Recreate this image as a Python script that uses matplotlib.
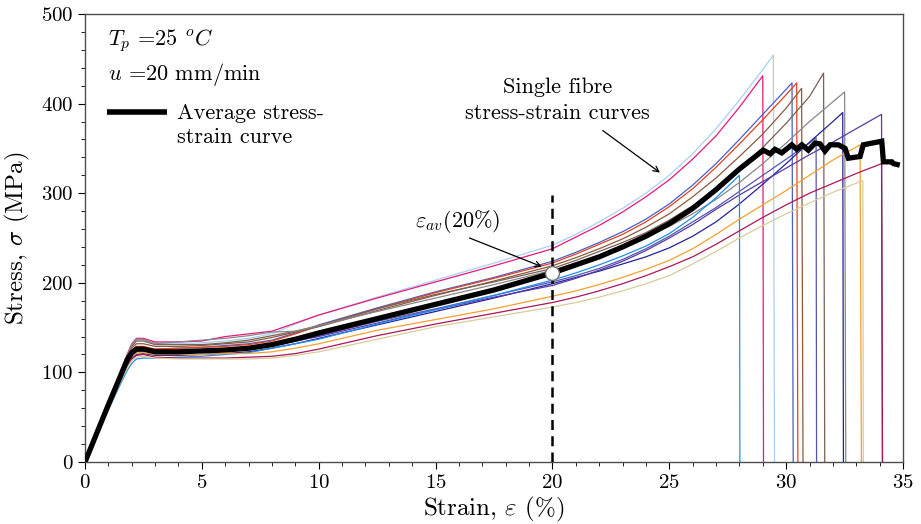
import matplotlib
matplotlib.use('Agg')
import matplotlib.pyplot as plt
from matplotlib.ticker import MultipleLocator

plt.rcParams['font.family'] = 'serif'
plt.rcParams['font.serif'] = ['cmr10']
plt.rcParams['mathtext.fontset'] = 'cm'
plt.rcParams['axes.unicode_minus'] = False
plt.rcParams['axes.formatter.use_mathtext'] = True

# common strain points (%) shared by all curves up to 27 %
strain_grid = [0, 0.5, 1, 1.5, 1.8, 2, 2.2, 2.5, 3, 4, 5, 6, 7, 8, 9, 10,
               12.5, 15, 17.5, 20, 21, 22, 23, 24, 25, 26, 27]

# single fibre curves: stress (MPa) on the grid, then tail strain / stress up to failure
lightblue_stress = [0, 32, 64, 96, 118, 130, 136, 136, 133, 132, 133, 135, 138, 143, 154, 164,
                    184, 203, 222, 242, 254, 268, 283, 300, 320, 344, 372]
lightblue_tail_x = [28, 29, 29.45, 29.5]
lightblue_tail_y = [404, 438, 454, 0]

pink_stress = [0, 32, 65, 97, 120, 132, 138, 138, 134, 134, 135, 140, 143, 146, 155, 164,
               183, 201, 219, 238, 251, 264, 279, 296, 315, 338, 364]
pink_tail_x = [28, 29, 29.03]
pink_tail_y = [396, 431, 0]

royal_stress = [0, 31, 62, 92, 112, 122, 127, 127, 126, 127, 128, 130, 132, 136, 144, 153,
                172, 190, 206, 224, 234, 245, 257, 271, 288, 309, 333]
royal_tail_x = [28, 29, 30.25, 30.3]
royal_tail_y = [360, 388, 423, 0]

red_stress = [0, 31, 62, 93, 114, 124, 129, 129, 126, 127, 128, 129, 131, 135, 143, 152,
              171, 189, 205, 222, 232, 243, 254, 268, 285, 305, 329]
red_tail_x = [28, 29, 30, 30.45, 30.5]
red_tail_y = [355, 382, 410, 423, 0]

brown_stress = [0, 31, 63, 94, 116, 127, 132, 132, 129, 129, 130, 132, 134, 139, 145, 151,
                169, 186, 202, 219, 228, 238, 249, 262, 277, 296, 317]
brown_tail_x = [28, 29, 30, 30.66, 30.72]
brown_tail_y = [341, 366, 395, 417, 0]

darkbrown_stress = [0, 31, 63, 95, 118, 129, 135, 135, 131, 131, 131, 133, 136, 141, 146, 152,
                    171, 187, 201, 216, 225, 235, 245, 256, 270, 286, 304]
darkbrown_tail_x = [28, 29, 30, 31, 31.6, 31.65]
darkbrown_tail_y = [326, 351, 378, 408, 434, 0]

grey_stress = [0, 32, 64, 96, 119, 131, 137, 137, 132, 134, 136, 138, 141, 145, 146, 152,
               168, 183, 198, 214, 222, 230, 240, 251, 263, 277, 293]
grey_tail_x = [28, 29, 30, 31, 32, 32.5, 32.55]
grey_tail_y = [312, 333, 356, 380, 402, 413, 0]

slate_stress = [0, 30, 60, 90, 108, 117, 123, 124, 122, 122, 123, 124, 126, 130, 135, 141,
                157, 171, 186, 201, 208, 216, 226, 238, 252, 268, 284]
slate_tail_x = [28, 29, 30, 31, 31.28, 31.3]
slate_tail_y = [302, 320, 338, 356, 362, 0]

navy_stress = [0, 30, 60, 89, 107, 115, 120, 121, 119, 119, 120, 121, 123, 127, 132, 138,
               153, 168, 183, 199, 206, 213, 221, 229, 239, 252, 268]
navy_tail_x = [28, 29, 30, 31, 32, 32.42, 32.45]
navy_tail_y = [288, 310, 333, 357, 380, 390, 0]

purple_stress = [0, 31, 61, 91, 110, 119, 124, 125, 122, 122, 123, 124, 126, 130, 135, 140,
                 155, 170, 184, 197, 205, 214, 224, 236, 250, 265, 282]
purple_tail_x = [28, 29, 30, 31, 32, 33, 34.08, 34.12]
purple_tail_y = [298, 313, 328, 343, 357, 372, 388, 0]

dodger_stress = [0, 30, 58, 86, 102, 110, 115, 116, 116, 117, 118, 120, 122, 127, 132, 137,
                 154, 170, 186, 203, 211, 220, 230, 241, 255, 273, 295]
dodger_tail_x = [28, 28.02]
dodger_tail_y = [320, 0]

orange_stress = [0, 31, 61, 91, 110, 118, 122, 122, 120, 120, 120, 121, 121, 123, 127, 132,
                 147, 159, 171, 185, 191, 198, 206, 215, 225, 238, 254]
orange_tail_x = [28, 29, 30, 31, 32, 33.16, 33.22]
orange_tail_y = [271, 287, 303, 320, 337, 354, 0]

crimson_stress = [0, 30, 60, 89, 107, 115, 119, 120, 117, 116, 116, 116, 117, 118, 121, 126,
                  141, 154, 166, 178, 184, 191, 199, 208, 218, 229, 243]
crimson_tail_x = [28, 29, 30, 31, 32, 33, 34.08, 34.12]
crimson_tail_y = [258, 273, 287, 300, 311, 322, 333, 0]

khaki_stress = [0, 30, 59, 88, 105, 113, 117, 118, 116, 115, 115, 115, 115, 116, 119, 123,
                137, 151, 162, 173, 178, 184, 191, 199, 208, 221, 235]
khaki_tail_x = [28, 29, 30, 31, 32, 33.28, 33.3]
khaki_tail_y = [250, 264, 277, 289, 301, 314, 0]

# average curve
avg_stress = [0, 32, 64, 95, 114, 122, 126, 126, 123, 123, 124, 125, 127, 131, 137, 144,
              160, 176, 192, 211, 220, 229, 240, 252, 266, 283, 304]
avg_tail_x = [28, 29.02, 29.31, 29.52, 29.81, 30.24, 30.45, 30.67, 30.95, 31.24, 31.45,
              31.66, 31.88, 32.23, 32.52, 32.66, 33.16, 33.3, 34.09, 34.16, 34.52, 34.59, 34.75]
avg_tail_y = [327, 348, 344, 349, 345, 354, 349, 354, 348, 356, 355,
              347, 354, 354, 350, 339, 341, 354, 358, 335, 335, 333, 332]

eps_ref = 20
sigma_ref = 211
ref_line_top = 298

fibres = [
    (lightblue_stress, lightblue_tail_x, lightblue_tail_y, '#aacff5'),
    (pink_stress, pink_tail_x, pink_tail_y, '#e8197c'),
    (royal_stress, royal_tail_x, royal_tail_y, '#4560c8'),
    (red_stress, red_tail_x, red_tail_y, '#e8401c'),
    (brown_stress, brown_tail_x, brown_tail_y, '#8b5a3c'),
    (darkbrown_stress, darkbrown_tail_x, darkbrown_tail_y, '#7a6055'),
    (grey_stress, grey_tail_x, grey_tail_y, '#888888'),
    (slate_stress, slate_tail_x, slate_tail_y, '#5555b0'),
    (navy_stress, navy_tail_x, navy_tail_y, '#23239a'),
    (purple_stress, purple_tail_x, purple_tail_y, '#5a3aa5'),
    (dodger_stress, dodger_tail_x, dodger_tail_y, '#2090f0'),
    (orange_stress, orange_tail_x, orange_tail_y, '#f5a030'),
    (crimson_stress, crimson_tail_x, crimson_tail_y, '#a8185a'),
    (khaki_stress, khaki_tail_x, khaki_tail_y, '#d8cc98'),
]

fig = plt.figure(figsize=(9.21, 5.24), dpi=100)
ax = fig.add_axes([0.0923, 0.1183, 0.8882, 0.855])

for stress, tx, ty, col in fibres:
    ax.plot(strain_grid + tx, stress + ty, color=col, lw=0.9, zorder=2)

ax.plot(strain_grid + avg_tail_x, avg_stress + avg_tail_y, color='k', lw=3.8,
        solid_joinstyle='miter', zorder=4)

ax.plot([eps_ref, eps_ref], [0, ref_line_top], color='k', lw=1.8, ls=(0, (4, 2.5)), zorder=5)
ax.plot([eps_ref], [sigma_ref], marker='o', ms=10, mfc='white', mec='0.45', mew=1.0, zorder=6)

# annotations (text and arrows drawn separately)
ax.text(15.95, 268, r'$\varepsilon_{av}(20\%)$', ha='center', va='center', fontsize=16)
ax.annotate('', xy=(19.55, 218), xytext=(16.45, 250),
            arrowprops=dict(arrowstyle='->', color='k', lw=0.9, shrinkA=0, shrinkB=0))
ax.text(20.2, 404, 'Single fibre\nstress-strain curves', ha='center', va='center',
        fontsize=16, linespacing=1.45)
ax.annotate('', xy=(24.6, 323), xytext=(22.15, 370),
            arrowprops=dict(arrowstyle='->', color='k', lw=0.9, shrinkA=0, shrinkB=0))

ax.text(0.028, 0.94, r'$T_p$ =25 $^oC$', transform=ax.transAxes, fontsize=16, va='center')
ax.text(0.028, 0.865, r'$u$ =20 mm/min', transform=ax.transAxes, fontsize=16, va='center')
ax.plot([0.027, 0.10], [0.782, 0.782], color='k', lw=4, transform=ax.transAxes,
        solid_capstyle='butt')
ax.text(0.112, 0.80, 'Average stress-\nstrain curve', transform=ax.transAxes, fontsize=16,
        va='top', ha='left', linespacing=1.3)

ax.set_xlim(0, 35)
ax.set_ylim(0, 500)
ax.xaxis.set_major_locator(MultipleLocator(5))
ax.xaxis.set_minor_locator(MultipleLocator(1))
ax.yaxis.set_major_locator(MultipleLocator(100))
ax.yaxis.set_minor_locator(MultipleLocator(20))
ax.tick_params(which='major', length=5, width=0.8, labelsize=15)
ax.tick_params(which='minor', length=3, width=0.6)
for sp in ax.spines.values():
    sp.set_color('0.3')
    sp.set_linewidth(1.0)

ax.set_xlabel(r'Strain, $\varepsilon$ (%)', fontsize=18, labelpad=2)
ax.set_ylabel(r'Stress, $\sigma$ (MPa)', fontsize=18, labelpad=6)

fig.savefig('out.png', dpi=100)
